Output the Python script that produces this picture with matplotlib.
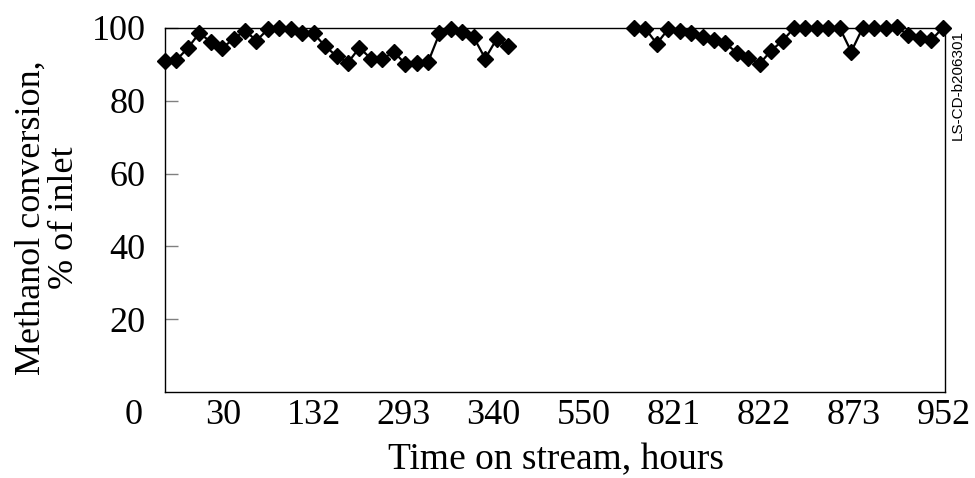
import numpy as np
import matplotlib
matplotlib.use("Agg")
import matplotlib.pyplot as plt
import matplotlib.transforms as mtransforms

# methanol conversion, % of inlet - two runs
conv_run1 = [91.0, 91.2, 94.5, 98.6, 96.2, 94.5, 97.0, 99.3, 96.5, 99.7,
             100.0, 99.7, 98.7, 98.5, 95.0, 92.3, 90.5, 94.6, 91.6, 91.4,
             93.5, 90.2, 90.3, 90.6, 98.5, 99.6, 98.8, 97.4, 91.6, 97.0, 95.0]
conv_run2 = [100.0, 99.8, 95.7, 99.7, 99.3, 98.6, 97.6, 96.6, 95.8, 93.2,
             91.8, 90.2, 93.8, 96.5, 100.0, 100.0, 100.0, 100.0, 100.0, 93.5,
             100.0, 100.0, 100.0, 100.3, 98.0, 97.2, 96.7, 100.0]
run2_start = 41

time_labels = ["0", "30", "132", "293", "340", "550", "821", "822", "873", "952"]
y_ticks = [20, 40, 60, 80, 100]

x1 = np.arange(len(conv_run1))
x2 = np.arange(len(conv_run2)) + run2_start

plt.rcParams['font.family'] = ['Liberation Serif', 'DejaVu Serif']

fig = plt.figure(figsize=(9.75, 4.78), dpi=100)
ax = fig.add_axes([165/975, 1-392/478, 780/975, 364/478])

for xs, ys in [(x1, conv_run1), (x2, conv_run2)]:
    ax.plot(xs, ys, color='black', lw=1.6, marker='D', ms=8,
            clip_on=False, zorder=3)

ax.set_xlim(0, 68.2)
ax.set_ylim(0, 100)

ax.set_yticks(y_ticks)
ax.set_yticklabels([str(v) for v in y_ticks], fontsize=26)
ax.tick_params(axis='y', direction='in', length=9, width=1, color='#808080', pad=14)
ax.set_xticks([])

# x labels sit evenly spaced, the first one left of the axis
trans = mtransforms.blended_transform_factory(ax.transData, ax.transAxes)
lab_pos = np.linspace(-2.75, 68.1, len(time_labels))
for p, lab in zip(lab_pos, time_labels):
    ax.text(p, -0.02, lab, transform=trans, ha='center', va='top',
            fontsize=26, clip_on=False)

for s in ax.spines.values():
    s.set_linewidth(1)

fig.text(556/975, 1-460/478, "Time on stream, hours", ha='center', va='center', fontsize=27)
fig.text(48/975, 1-218/478, "Methanol conversion,\n% of inlet", ha='center', va='center',
         rotation=90, fontsize=26, linespacing=1.0)
fig.text(958/975, 1-85/478, "LS-CD-b206301", ha='center', va='center', rotation=90,
         fontsize=11, family=['Liberation Sans', 'DejaVu Sans'])

fig.savefig("out.png", dpi=100)
